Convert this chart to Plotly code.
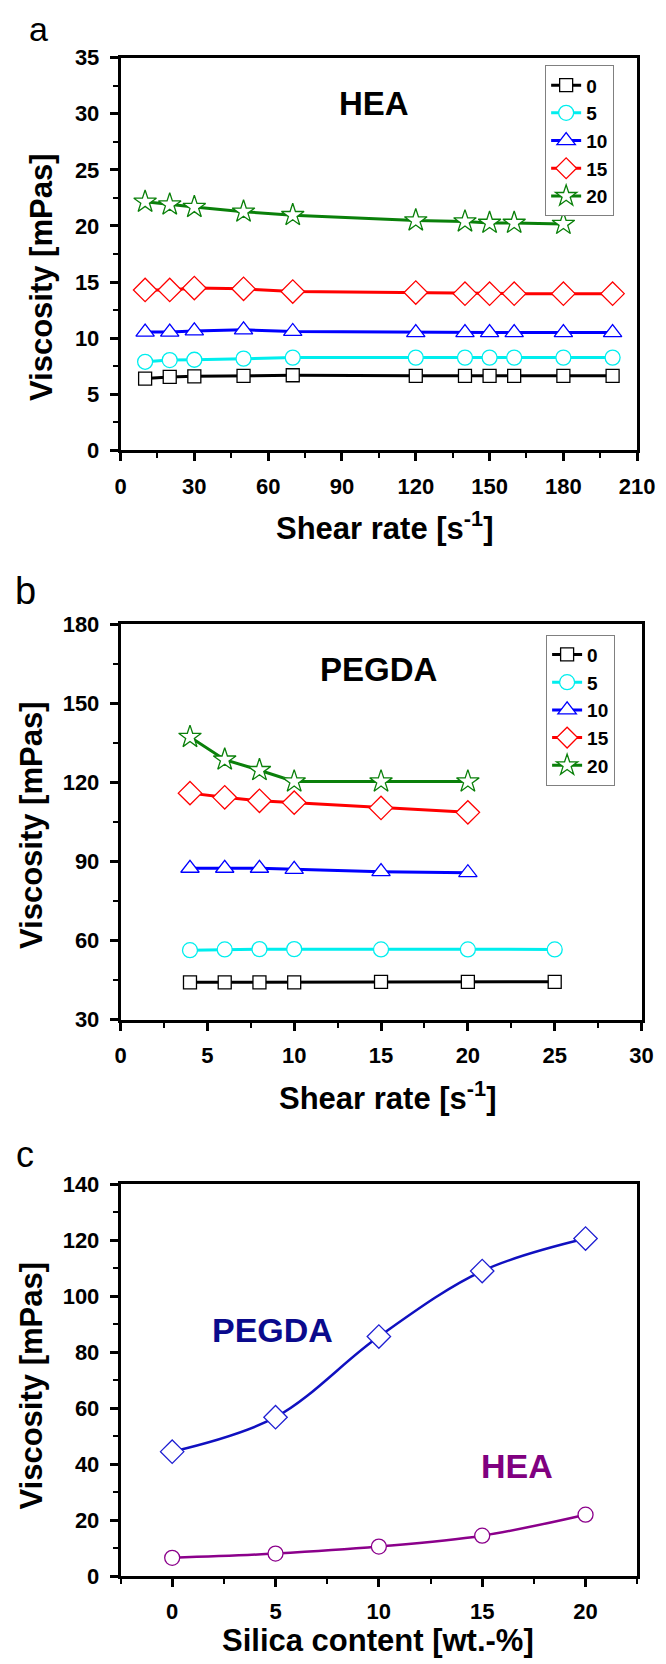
import plotly.graph_objects as go

W, H = 666, 1664

# ---------------- data ----------------
silica_levels = ["0", "5", "10", "15", "20"]

# Panel a: HEA viscosity vs shear rate
hea_rate = [10, 20, 30, 50, 70, 120, 140, 150, 160, 180, 200]
hea_0 = [6.4, 6.55, 6.6, 6.65, 6.7, 6.65, 6.65, 6.65, 6.65, 6.65, 6.65]
hea_5 = [7.9, 8.05, 8.08, 8.18, 8.27, 8.27, 8.27, 8.27, 8.27, 8.27, 8.27]
hea_10 = [10.55, 10.55, 10.65, 10.75, 10.6, 10.5, 10.5, 10.5, 10.5, 10.5, 10.5]
hea_15 = [14.3, 14.3, 14.47, 14.4, 14.16, 14.07, 13.97, 13.97, 13.97, 13.97, 13.97]
hea_20_rate = [10, 20, 30, 50, 70, 120, 140, 150, 160, 180]
hea_20 = [22.15, 21.9, 21.68, 21.27, 20.96, 20.49, 20.4, 20.27, 20.27, 20.18]

# Panel b: PEGDA viscosity vs shear rate
peg_rate = [4, 6, 8, 10, 15, 20, 25]
peg_0 = [44.2, 44.2, 44.2, 44.2, 44.4, 44.4, 44.4]
peg_5 = [56.4, 56.7, 56.8, 56.8, 56.7, 56.7, 56.7]
peg_rate_short = [4, 6, 8, 10, 15, 20]
peg_10 = [87.5, 87.5, 87.5, 87.1, 86.2, 85.8]
peg_15 = [116.0, 114.4, 113.1, 112.4, 110.4, 108.7]
peg_20 = [137.3, 128.7, 124.7, 120.4, 120.4, 120.4]

# Panel c: viscosity vs silica content
silica = [0, 5, 10, 15, 20]
c_pegda = [44.5, 56.8, 85.6, 109.0, 120.6]
c_hea = [6.6, 8.1, 10.6, 14.5, 22.0]

# ---------------- styling ----------------
colors = ["#000000", "#00EEEE", "#0000FF", "#FF0000", "#0A800A"]
symbols = ["square", "circle", "triangle-up", "diamond", "star"]
msizes = [13, 15, 16, 18, 17]
FONT = "Liberation Sans, Arial, sans-serif"


def px(x, y):
    return x / W, 1 - y / H


fig = go.Figure()

series_a = [(hea_rate, hea_0), (hea_rate, hea_5), (hea_rate, hea_10),
            (hea_rate, hea_15), (hea_20_rate, hea_20)]
series_b = [(peg_rate, peg_0), (peg_rate, peg_5), (peg_rate_short, peg_10),
            (peg_rate_short, peg_15), (peg_rate_short, peg_20)]

for i, (xs, ys) in enumerate(series_a):
    fig.add_trace(go.Scatter(
        x=xs, y=ys, mode="lines+markers", name=silica_levels[i],
        xaxis="x", yaxis="y", legend="legend",
        line=dict(color=colors[i], width=3),
        marker=dict(symbol=symbols[i], size=msizes[i],
                    color="white", line=dict(color=colors[i], width=1.3)),
    ))

for i, (xs, ys) in enumerate(series_b):
    fig.add_trace(go.Scatter(
        x=xs, y=ys, mode="lines+markers", name=silica_levels[i],
        xaxis="x2", yaxis="y2", legend="legend2",
        line=dict(color=colors[i], width=3),
        marker=dict(symbol=symbols[i], size=msizes[i],
                    color="white", line=dict(color=colors[i], width=1.3)),
    ))

fig.add_trace(go.Scatter(
    x=silica, y=c_pegda, mode="lines+markers", name="PEGDA", showlegend=False,
    xaxis="x3", yaxis="y3",
    line=dict(color="#1010C0", width=2.5, shape="spline", smoothing=1.0),
    marker=dict(symbol="diamond", size=18, color="white",
                line=dict(color="#1E1ED2", width=1.3)),
))
fig.add_trace(go.Scatter(
    x=silica, y=c_hea, mode="lines+markers", name="HEA", showlegend=False,
    xaxis="x3", yaxis="y3",
    line=dict(color="#8B008B", width=2.5, shape="spline", smoothing=1.0),
    marker=dict(symbol="circle", size=15, color="white",
                line=dict(color="#8B008B", width=1.3)),
))


def axis(domain, rng, dtick, minor, anchor, tick0=None, tickvals=None):
    d = dict(
        domain=domain, range=rng, anchor=anchor,
        showline=True, linecolor="black", linewidth=2.5, mirror=True,
        showgrid=False, zeroline=False,
        ticks="outside", ticklen=8, tickwidth=2.5, tickcolor="black",
        ticklabelstandoff=6,
        tickfont=dict(family=FONT, size=22, color="black", weight="bold"),
        minor=dict(ticks="outside", ticklen=5, tickwidth=2, tickcolor="black",
                   dtick=minor, showgrid=False),
    )
    if tickvals is not None:
        d["tickmode"] = "array"
        d["tickvals"] = tickvals
    else:
        d["dtick"] = dtick
        d["tick0"] = tick0 if tick0 is not None else rng[0]
    return d


xa0, _ = px(110.5, 0)
xa1, _ = px(646.5, 0)
xb1, _ = px(651, 0)
_, ya0 = px(0, 437)
_, ya1 = px(0, 38.2)
_, yb0 = px(0, 1015)
_, yb1 = px(0, 613.7)
_, yc0 = px(0, 1580)
_, yc1 = px(0, 1182)

legend_style = dict(xanchor="left", yanchor="top",
                    bgcolor="white", bordercolor="#808080", borderwidth=1,
                    font=dict(family=FONT, size=19, color="black", weight="bold"),
                    tracegroupgap=0, itemwidth=30)

fig.update_layout(
    width=W, height=H,
    margin=dict(l=0, r=0, t=0, b=0),
    paper_bgcolor="white", plot_bgcolor="white",
    font=dict(family=FONT, color="black"),
    xaxis=axis([xa0, xa1], [0, 210], 30, 15, "y", tick0=0),
    yaxis=axis([ya0, ya1], [0, 35], 5, 2.5, "x", tick0=0),
    xaxis2=axis([xa0, xb1], [0, 30], 5, 2.5, "y2", tick0=0),
    yaxis2=axis([yb0, yb1], [30, 180], 30, 15, "x2", tick0=30),
    xaxis3=axis([xa0, xa1], [-2.5, 22.5], 5, 2.5, "y3", tickvals=[0, 5, 10, 15, 20]),
    yaxis3=axis([yc0, yc1], [0, 140], 20, 10, "x3", tick0=0),
    legend=dict(x=551 / W, y=1 - 46 / H, **legend_style),
    legend2=dict(x=552 / W, y=1 - 624 / H, **legend_style),
    showlegend=True,
)
fig.layout.xaxis3.minor.tick0 = 0

annotations = []


def ann(text, x, y, size, bold=True, color="black", angle=0):
    ax, ay = px(x, y)
    annotations.append(dict(
        text=text, x=ax, y=ay, xref="paper", yref="paper",
        xanchor="center", yanchor="middle", showarrow=False, textangle=angle,
        font=dict(family=FONT, size=size, color=color,
                  weight="bold" if bold else "normal"),
    ))


# panel labels
ann("a", 25, 9, 34, bold=False)
ann("b", 12, 580, 38, bold=False)
ann("c", 11, 1152, 36, bold=False)

# axis titles
ann("Shear rate [s<sup>-1</sup>]", 384, 514, 31)
ann("Viscosity [mPas]", 28, 261, 31, angle=-90)
ann("Shear rate [s<sup>-1</sup>]", 387, 1092, 31)
ann("Viscosity [mPas]", 18, 817, 31, angle=-90)
ann("Silica content [wt.-%]", 378, 1645, 31)
ann("Viscosity [mPas]", 18, 1386, 31, angle=-90)

# inner labels
ann("HEA", 373, 85, 33)
ann("PEGDA", 378, 659, 33)
ann("PEGDA", 268, 1330, 34, color="#0A0A8C")
ann("HEA", 522, 1468, 34, color="#800080")

fig.update_layout(annotations=annotations)

fig.write_html("out.html")
